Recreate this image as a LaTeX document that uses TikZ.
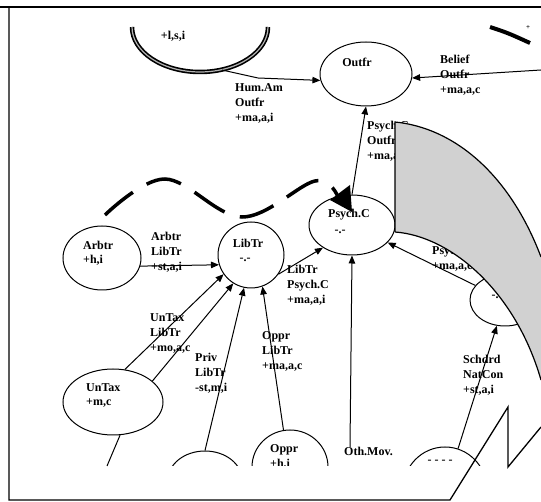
\documentclass[tikz,border=0pt]{standalone}
\usepackage{fontspec}
\setmainfont{Liberation Serif}
\usetikzlibrary{arrows.meta,shapes.geometric}
\begin{document}
\begin{tikzpicture}[x=1pt,y=-1pt,
  lab/.style={font=\bfseries\fontsize{12}{15}\selectfont, align=left, inner sep=0pt, anchor=north west},
  txt/.style={font=\bfseries\fontsize{12}{15}\selectfont, inner sep=0pt},
  ell/.style={draw, ellipse, line width=1pt, inner sep=0pt},
  conn/.style={line width=1pt, -{Triangle[length=8pt,width=6.5pt]}},
  plainln/.style={line width=1pt},
  framel/.style={line width=1.3pt},
  thickarc/.style={line width=4.5pt},
  wave/.style={line width=3.5pt, dash pattern=on 36pt off 16pt},
  band/.style={fill=black!18, draw=none},
  bandedge/.style={line width=1.2pt}]
\useasboundingbox (0,0) rectangle (541,502);
\fill[white] (0,0) rectangle (541,502);

% frame and bottom-right outline
\draw[framel] (0,7) -- (541,7);
\draw[framel] (9,7) -- (9,500) -- (450,500) -- (508,407) -- (508,467) -- (541,427);

% top-left U arc and top-right fragment
\draw[thickarc] (132,27) arc[start angle=180,end angle=0,x radius=68,y radius=45];
\draw[line width=1.2pt, white!70!black] (132,27) arc[start angle=180,end angle=0,x radius=68,y radius=45];
\node[txt] at (173,36) {+l,s,i};
\draw[line width=4pt] (490,27) .. controls (508,33) .. (530,43);
\node[txt, font=\bfseries\fontsize{7}{8}\selectfont] at (528,28) {+};

% nodes
\node[ell, minimum width=92pt, minimum height=64pt] (outfr) at (366,74) {};
\node[txt] at (357,62) {Outfr};
\node[ell, minimum width=86pt, minimum height=60pt] (psy) at (352,225) {};
\node[txt] at (349,215) {Psych.C};
\node[txt] at (340,232) {-.-};
\node[ell, minimum width=78pt, minimum height=64pt] (arbtr) at (102,258) {};
\node[lab] at (83,241) {Arbtr\\[-1pt]+h,i};
\node[ell, minimum width=66pt, minimum height=66pt] (libtr) at (251,255) {};
\node[txt] at (248,243) {LibTr};
\node[txt] at (245,260) {-.-};
\node[ell, minimum width=100pt, minimum height=66pt] (untax) at (113,402) {};
\node[lab] at (86,383) {UnTax\\[-1pt]+m,c};
\node[ell, minimum width=70pt, minimum height=52pt] (rell) at (505,300) {};
\node[txt] at (497,297) {-.-};

\begin{scope}
\clip (0,0) rectangle (541,466);
\node[ell, minimum width=74pt, minimum height=58pt] (priv) at (205,480) {};
\node[ell, minimum width=76pt, minimum height=74pt] (oppr) at (290,467) {};
\node[lab] at (270,444) {Oppr\\+h,i};
\node[ell, minimum width=84pt, minimum height=86pt] (br) at (445,490) {};
\node[txt] at (440,462) {- - - -};
\node[lab] at (344,447) {Oth.Mov.};
\end{scope}

% free ends
\coordinate (ua) at (222,70);
\coordinate (bel) at (541,70);
\coordinate (om) at (350,447);
\coordinate (ub) at (107,466);

% connectors
\draw[conn] (ua) -- (258,78) -- (outfr.188);
\draw[conn] (bel) -- (outfr.-5);
\draw[conn] (psy.north) -- (outfr.south);
\draw[conn] (arbtr.-12) -- (libtr.197);
\draw[conn] (libtr.-35) -- (psy.218);
\draw[conn] (rell) -- (psy);
\draw[conn] (om) -- (psy.south);
\draw[conn] (untax.70) -- (libtr.215);
\draw[conn] (untax.28) -- (libtr.238);
\draw[conn] (priv.north) -- (libtr.258);
\draw[conn] (oppr.100) -- (libtr.290);
\draw[conn] (br) -- (rell);
\draw[plainln] (untax.-78) -- (ub);

% connector labels
\node[lab] at (235,83) {Hum.Am\\Outfr\\+ma,a,i};
\node[lab] at (440,55) {Belief\\Outfr\\+ma,a,c};
\node[lab] at (367,121) {Psych.C\\Outfr\\+ma,a,c};
\node[lab] at (151,232) {Arbtr\\LibTr\\+st,a,i};
\node[lab] at (287,265) {LibTr\\Psych.C\\+ma,a,i};
\node[lab] at (432,246) {Psych.C\\+ma,a,c};
\node[lab] at (150,313) {UnTax\\LibTr\\+mo,a,c};
\node[lab] at (195,353) {Priv\\LibTr\\-st,m,i};
\node[lab] at (262,331) {Oppr\\LibTr\\+ma,a,c};
\node[lab] at (463,355) {Schdrd\\NatCon\\+st,a,i};

% dashed wave with big head
\draw[wave] plot[smooth, tension=0.6] coordinates {(105,215) (165,179) (242,217) (315,181) (338,197)};
\fill (330,200) -- (350,185) -- (352,212) -- cycle;

% grey band
\fill[band] (395,122) .. controls (455,128) and (510,175) .. (541,257) -- (541,380) .. controls (515,290) and (450,236) .. (395,232) -- cycle;
\draw[bandedge] (395,232) -- (395,122) .. controls (455,128) and (510,175) .. (541,257);
\draw[bandedge] (395,232) .. controls (450,236) and (515,290) .. (541,380);
\end{tikzpicture}
\end{document}
